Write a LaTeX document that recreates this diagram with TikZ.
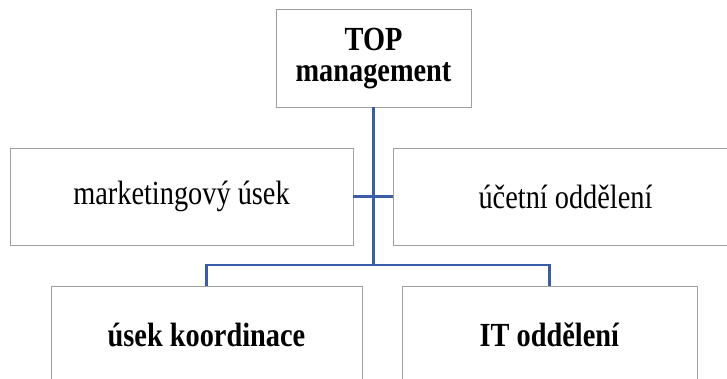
\documentclass[tikz,border=0pt]{standalone}
\usepackage{fontspec}
\setmainfont{Liberation Serif}[FakeStretch=0.84]
\usepackage{tikz}
\definecolor{lb}{HTML}{3A5DA8}
\definecolor{bg}{HTML}{A0A0A0}

\begin{document}
\begin{tikzpicture}[
  box/.style={draw=bg,line width=0.7pt,fill=white,minimum height=2.425cm,inner sep=0pt,align=center,font=\fontsize{24}{22}\selectfont},
  link/.style={draw=lb,line width=1.9pt}]
\useasboundingbox (0,0) rectangle (18.175,9.475);
\clip (0,0) rectangle (18.175,9.475);
\node[box,minimum width=4.875cm] (top) at (9.3375,8.0125) {\textbf{TOP}\\\textbf{management}};
\node[box,minimum width=8.575cm] (mark) at (4.5375,4.5625) {marketingový úsek};
\node[box,minimum width=8.625cm] (ucet) at (14.1375,4.5625) {účetní oddělení};
\node[box,minimum width=7.775cm] (koord) at (5.1625,1.1125) {\textbf{úsek koordinace}};
\node[box,minimum width=7.375cm] (it) at (13.7375,1.1125) {\textbf{IT oddělení}};
\coordinate (split) at (top.south |- 0,2.85);
\draw[link] (top.south) -- (split);
\draw[link] (mark.east) -- (ucet.west);
\draw[link] (split) -| (koord.north);
\draw[link] (split) -| (it.north);
\end{tikzpicture}
\end{document}
